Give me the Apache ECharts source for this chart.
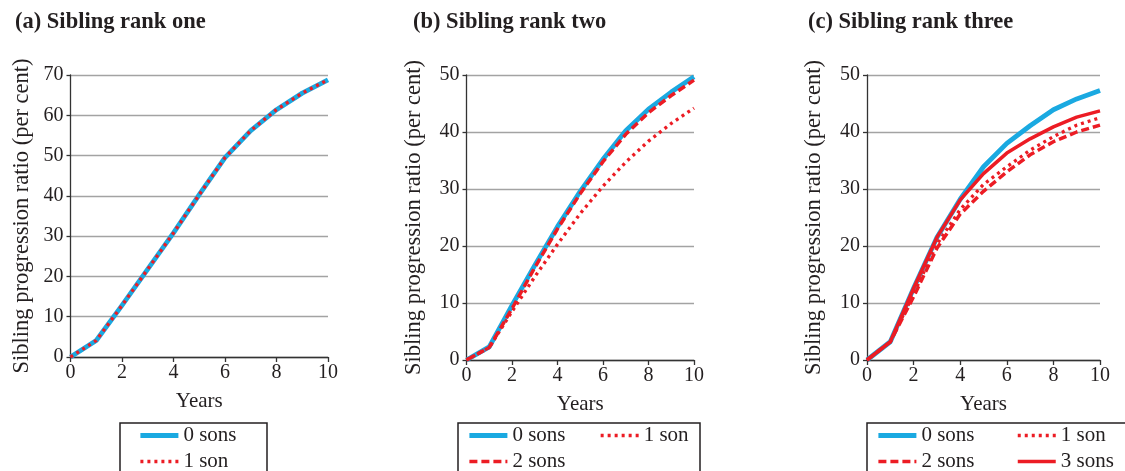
<!DOCTYPE html>
<html><head><meta charset="utf-8">
<script src="https://cdn.jsdelivr.net/npm/echarts@6/dist/echarts.min.js"></script>
<style>html,body{margin:0;padding:0;background:#fff}#c{width:1125px;height:471px}</style>
</head><body><div id="c"></div>
<script>
const years = [0,1,2,3,4,5,6,7,8,9,10];
const titles = ['(a) Sibling rank one','(b) Sibling rank two','(c) Sibling rank three'];
const yMax = [70, 50, 50];
// Panel (a)
const a0sons = [0,4.1,12.8,21.8,30.8,40.3,49.5,56.2,61.4,65.5,68.8];
const a1son  = [0,4.1,12.8,21.8,30.8,40.3,49.5,56.2,61.4,65.5,68.8];
// Panel (b)
const b0sons = [0,2.3,9.6,16.6,23.4,29.6,35.2,40.2,44.0,47.0,49.7];
const b1son  = [0,2.2,8.5,14.6,20.3,25.7,30.5,34.7,38.4,41.5,44.2];
const b2sons = [0,2.2,9.0,16.2,23.0,29.2,34.8,39.6,43.4,46.4,49.1];
// Panel (c)
const c0sons = [0,3.2,12.6,21.5,28.2,33.9,38.0,41.1,43.9,45.8,47.3];
const c1son  = [0,3.2,11.6,20.3,26.4,30.8,33.9,36.8,39.2,41.2,42.5];
const c2sons = [0,3.2,11.1,19.6,25.6,29.6,33.0,36.0,38.3,40.0,41.2];
const c3sons = [0,3.2,12.6,21.5,28.1,32.7,36.3,38.8,40.9,42.6,43.7];

const BLUE = '#1aa9e1', RED = '#ec1c24', TXT = '#231f20';
const SERIF = '"Liberation Serif","DejaVu Serif",serif';
const pairs = arr => years.map((x,i)=>[x,arr[i]]);
const styles = {
  '0 sons': {color: BLUE, width: 4.8, type: 'solid'},
  '1 son':  {color: RED, width: 3.3, type: [3,4]},
  '2 sons': {color: RED, width: 3.5, type: [8,4]},
  '3 sons': {color: RED, width: 3.5, type: 'solid'}
};
function mk(name, arr, idx){
  const s = styles[name];
  return {type:'line', name, xAxisIndex: idx, yAxisIndex: idx, data: pairs(arr),
    symbol:'none', showSymbol:false, smooth:false, animation:false,
    itemStyle:{color:s.color},
    lineStyle:{color:s.color, width:s.width, type:s.type, cap:'butt', join:'round'}};
}
const grids = [
  {left:70.5, top:75, width:257.5, height:282},
  {left:466.5, top:75, width:227.5, height:285},
  {left:867, top:75, width:233, height:285}
];
const nameGaps = [37, 41, 41];
const xAxes = grids.map((g,i)=>({gridIndex:i, type:'value', min:0, max:10, interval:2,
  name:'Years', nameLocation:'middle', nameGap: 34,
  nameTextStyle:{fontFamily:SERIF, fontSize:21, color:TXT},
  axisLine:{lineStyle:{color:'#333', width:1.3}},
  axisTick:{show:true, length:5, lineStyle:{color:'#333', width:1.3}},
  axisLabel:{fontFamily:SERIF, fontSize:20, color:TXT, margin:6},
  splitLine:{show:false}}));
const yAxes = grids.map((g,i)=>({gridIndex:i, type:'value', min:0, max:yMax[i], interval:10,
  name:'Sibling progression ratio (per cent)', nameLocation:'middle', nameGap:nameGaps[i],
  nameTextStyle:{fontFamily:SERIF, fontSize:22.5, color:TXT},
  axisLine:{show:true, lineStyle:{color:'#333', width:1.3}},
  axisTick:{show:true, length:4, lineStyle:{color:'#333', width:1.3}},
  axisLabel:{fontFamily:SERIF, fontSize:20, color:TXT, margin:7},
  splitLine:{show:true, lineStyle:{color:'#a3a3a3', width:1.4}}}));
const legendBase = {orient:'vertical', itemWidth:38, itemHeight:14, itemGap:5, height:120,
  textStyle:{fontFamily:SERIF, fontSize:21, color:TXT, padding:[0,0,0,0]}, padding:0,
  itemStyle:{opacity:0}, lineStyle:{width:'inherit', type:'inherit'}, selectedMode:false};
const legends = [
  Object.assign({}, legendBase, {left:138, top:425, data:['0 sons','1 son']}),
  Object.assign({}, legendBase, {left:467, top:425, data:['0 sons','2 sons']}),
  Object.assign({}, legendBase, {left:599, top:425, data:['1 son']}),
  Object.assign({}, legendBase, {left:876, top:425, data:['0 sons','2 sons']}),
  Object.assign({}, legendBase, {left:1016, top:425, data:['1 son','3 sons']})
];
const boxes = [[120,423,147,60],[458,423,242,60],[867,423,270,60]].map(b=>({
  type:'rect', shape:{x:b[0], y:b[1], width:b[2], height:b[3]},
  style:{fill:'none', stroke:'#231f20', lineWidth:1.5}, silent:true}));
const titleOpts = [[15,11],[413,11],[808,11]].map((p,i)=>({text:titles[i], left:p[0], top:p[1],
  padding:0, textStyle:{fontFamily:SERIF, fontSize:22.5, fontWeight:'bold', color:TXT}}));
const series = [
  mk('0 sons', a0sons, 0), mk('1 son', a1son, 0),
  mk('0 sons', b0sons, 1), mk('1 son', b1son, 1), mk('2 sons', b2sons, 1),
  mk('0 sons', c0sons, 2), mk('1 son', c1son, 2), mk('2 sons', c2sons, 2), mk('3 sons', c3sons, 2)
];
const chart = echarts.init(document.getElementById('c'), null, {renderer:'canvas'});
chart.setOption({
  animation:false, backgroundColor:'#fff',
  title: titleOpts, grid: grids, xAxis: xAxes, yAxis: yAxes,
  legend: legends, graphic: boxes, series
});
</script></body></html>
